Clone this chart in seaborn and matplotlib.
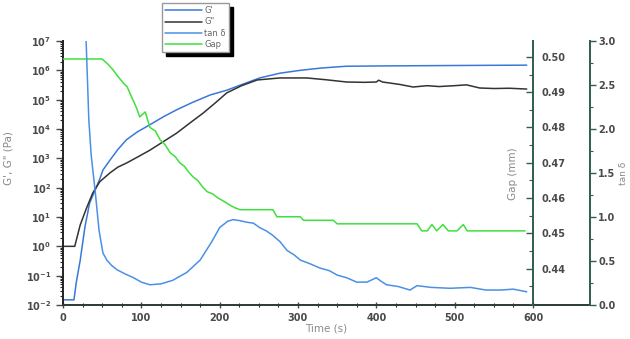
import numpy as np
import pandas as pd
import matplotlib
matplotlib.use("Agg")
import matplotlib.pyplot as plt
import matplotlib.ticker as mticker
import seaborn as sns

# G' storage modulus (Pa)
t_gp = [0, 14, 17, 22, 28, 34, 41, 47, 51, 60, 70, 81, 95, 111, 128, 145, 165,
        188, 209, 230, 251, 277, 303, 330, 362, 420, 480, 540, 592]
g_p = [1.5e-2, 1.5e-2, 6e-2, 3.4e-1, 4.6, 3.0e1, 8.3e1, 2.0e2, 4.0e2, 8.7e2,
       2.0e3, 4.3e3, 8.0e3, 1.4e4, 2.6e4, 4.5e4, 8.0e4, 1.45e5, 2.1e5, 3.4e5,
       5.5e5, 8.0e5, 1.0e6, 1.2e6, 1.38e6, 1.42e6, 1.45e6, 1.48e6, 1.5e6]

# G'' loss modulus (Pa)
t_gpp = [0, 15, 22, 30, 38, 47, 60, 70, 81, 95, 111, 128, 145, 162, 179, 195,
         209, 228, 248, 277, 294, 311, 335, 362, 385, 400, 403, 408, 430, 447,
         465, 480, 500, 515, 532, 550, 570, 592]
g_pp = [1.0, 1.0, 5.4, 2.0e1, 6.6e1, 1.6e2, 3.2e2, 5.0e2, 6.9e2, 1.1e3, 1.9e3,
        3.7e3, 7.2e3, 1.6e4, 3.5e4, 8.0e4, 1.7e5, 3.0e5, 4.7e5, 5.5e5, 5.5e5,
        5.5e5, 4.8e5, 4.0e5, 3.9e5, 4.0e5, 4.6e5, 4.0e5, 3.3e5, 2.7e5, 3.0e5,
        2.8e5, 3.0e5, 3.2e5, 2.5e5, 2.4e5, 2.45e5, 2.3e5]

# tan delta
t_tan = [29.5, 33, 36, 41, 46, 51, 56, 62, 69, 80, 90, 100, 111, 125, 140, 158,
         175, 190, 200, 210, 217, 225, 235, 243, 251, 260, 268, 277, 286, 295,
         303, 315, 328, 340, 350, 362, 375, 388, 400, 406, 413, 428, 443, 452,
         470, 494, 520, 540, 558, 575, 592]
tan_d = [3.0, 2.1, 1.7, 1.30, 0.85, 0.59, 0.51, 0.45, 0.40, 0.35, 0.31, 0.26,
         0.23, 0.24, 0.28, 0.37, 0.51, 0.72, 0.88, 0.95, 0.97, 0.96, 0.94, 0.93,
         0.88, 0.84, 0.79, 0.72, 0.62, 0.57, 0.51, 0.47, 0.42, 0.39, 0.34, 0.31,
         0.26, 0.26, 0.31, 0.27, 0.23, 0.21, 0.17, 0.22, 0.20, 0.19, 0.20,
         0.17, 0.17, 0.18, 0.15]

# Gap (mm)
t_gap = [0, 50, 57, 64, 70, 77, 82, 88, 93, 98, 102, 105, 108, 111, 118, 124,
         130, 137, 143, 149, 155, 160, 166, 172, 178, 184, 191, 198, 206, 213,
         220, 226, 268, 273, 303, 307, 345, 350, 452, 458, 465, 471, 477, 485,
         492, 503, 511, 516, 590]
gap = [0.4994, 0.4994, 0.4980, 0.4963, 0.4945, 0.4926, 0.4915, 0.4884, 0.4860,
       0.4830, 0.4838, 0.4844, 0.4822, 0.4800, 0.4790, 0.4765, 0.4752, 0.4728,
       0.4718, 0.4700, 0.4690, 0.4675, 0.4660, 0.4650, 0.4632, 0.4618, 0.4612,
       0.4600, 0.4590, 0.4580, 0.4572, 0.4567, 0.4567, 0.4547, 0.4547, 0.4537,
       0.4537, 0.4527, 0.4527, 0.4507, 0.4507, 0.4525, 0.4507, 0.4525, 0.4507,
       0.4507, 0.4525, 0.4507, 0.4507]

sns.set_style("ticks")
plt.rcParams["font.family"] = ["DejaVu Sans"]

c_gp = "#3a78d8"
c_gpp = "#333333"
c_tan = "#4a90e6"
c_gap = "#3ee03e"
c_spine = "#2f5d50"
c_lbl = "#8a8a8a"
c_tick = "#4a4a4a"

fig = plt.figure(figsize=(6.3, 3.39), dpi=100)
ax = fig.add_axes([63 / 630, 1 - 305 / 339, 470 / 630, 264 / 339])

sns.lineplot(x=t_gp, y=g_p, ax=ax, color=c_gp, lw=1.1, estimator=None, sort=False)
sns.lineplot(x=t_gpp, y=g_pp, ax=ax, color=c_gpp, lw=1.1, estimator=None, sort=False)
ax.set_yscale("log")
ax.set_ylim(1e-2, 1e7)
ax.set_xlim(0, 600)

ax_gap = ax.twinx()
sns.lineplot(x=t_gap, y=gap, ax=ax_gap, color=c_gap, lw=1.1, estimator=None, sort=False)
ax_gap.set_ylim(0.4297, 0.5045)

ax_tan = ax.twinx()
ax_tan.spines["right"].set_position(("axes", 1.121))
sns.lineplot(x=t_tan, y=tan_d, ax=ax_tan, color=c_tan, lw=1.1, estimator=None, sort=False)
ax_tan.set_ylim(0, 3)

# main axis ticks
ax.set_xticks(np.arange(0, 601, 100))
ax.xaxis.set_minor_locator(mticker.MultipleLocator(25))
ax.yaxis.set_major_locator(mticker.LogLocator(base=10, numticks=12))
ax.yaxis.set_minor_locator(mticker.LogLocator(base=10, subs=np.arange(2, 10), numticks=12))
ax.yaxis.set_minor_formatter(mticker.NullFormatter())
ax.tick_params(axis="x", which="major", direction="inout", length=5, width=1, labelsize=7, colors=c_tick)
ax.tick_params(axis="x", which="minor", direction="inout", length=3, width=0.8)
ax.tick_params(axis="y", which="major", direction="out", length=5, width=1, labelsize=7, colors=c_tick)
ax.tick_params(axis="y", which="minor", direction="out", length=2.5, width=0.8)
for lab in ax.get_xticklabels() + ax.get_yticklabels():
    lab.set_fontweight("bold")
for s in ["top", "right"]:
    ax.spines[s].set_visible(False)
ax.spines["left"].set_color("#222222")
ax.spines["bottom"].set_color("#2a3a36")
ax.spines["left"].set_linewidth(1.4)
ax.spines["bottom"].set_linewidth(1.4)

# gap axis
ax_gap.set_yticks([0.44, 0.45, 0.46, 0.47, 0.48, 0.49, 0.50])
ax_gap.yaxis.set_minor_locator(mticker.MultipleLocator(0.005))
ax_gap.yaxis.set_major_formatter(mticker.FormatStrFormatter("%.2f"))
ax_gap.tick_params(axis="y", which="major", direction="in", length=5, width=1,
                   labelsize=7, colors=c_tick, pad=6)
ax_gap.tick_params(axis="y", which="minor", direction="in", length=3, width=0.8, colors=c_spine)
ax_gap.tick_params(axis="y", which="major", color=c_spine)
for lab in ax_gap.get_yticklabels():
    lab.set_fontweight("bold")
for s in ["top", "left", "bottom"]:
    ax_gap.spines[s].set_visible(False)
ax_gap.spines["right"].set_color(c_spine)
ax_gap.spines["right"].set_linewidth(1.4)

# tan delta axis
ax_tan.set_yticks(np.arange(0, 3.01, 0.5))
ax_tan.yaxis.set_minor_locator(mticker.MultipleLocator(0.25))
ax_tan.yaxis.set_major_formatter(mticker.FormatStrFormatter("%.1f"))
ax_tan.tick_params(axis="y", which="major", direction="out", length=4, width=1,
                   labelsize=7, colors=c_tick, pad=2)
ax_tan.tick_params(axis="y", which="major", color=c_spine)
ax_tan.tick_params(axis="y", which="minor", direction="out", length=2.5, width=0.8, colors=c_spine)
for lab in ax_tan.get_yticklabels():
    lab.set_fontweight("bold")
for s in ["top", "left", "bottom"]:
    ax_tan.spines[s].set_visible(False)
ax_tan.spines["right"].set_color(c_spine)
ax_tan.spines["right"].set_linewidth(1.4)
ax.plot([1, 1.121], [0, 0], transform=ax.transAxes, color="#2a3a36", lw=1.4, clip_on=False)

# axis labels
ax.set_xlabel("Time (s)", fontsize=7.5, color=c_lbl)
ax.xaxis.set_label_coords(0.56, -0.07)
ax.set_ylabel("G', G\" (Pa)", fontsize=7.5, color=c_lbl)
ax.yaxis.set_label_coords(-0.105, 0.557)
ax_gap.set_ylabel("Gap (mm)", fontsize=7.5, color=c_lbl)
ax_gap.yaxis.set_label_position("right")
ax_gap.yaxis.set_label_coords(0.947, 0.496)
ax_tan.set_ylabel("tan δ", fontsize=6.5, color=c_lbl, rotation=90)
ax_tan.yaxis.set_label_coords(1.183, 0.5)

# legend
handles = [
    plt.Line2D([], [], color=c_gp, lw=1.1),
    plt.Line2D([], [], color=c_gpp, lw=1.1),
    plt.Line2D([], [], color=c_tan, lw=1.1),
    plt.Line2D([], [], color=c_gap, lw=1.1),
]
leg = fig.legend(handles, ["G'", 'G"', "tan δ", "Gap"], loc="upper left",
                 bbox_to_anchor=(162 / 630, 1 - 3 / 339), bbox_transform=fig.transFigure,
                 borderaxespad=0, fontsize=6, handlelength=4.4, handletextpad=0.3,
                 labelspacing=0.25, borderpad=0.4, fancybox=False, framealpha=1,
                 edgecolor="#999999",
                 shadow={"color": "black", "alpha": 1, "ox": 3, "oy": -3})
for txt in leg.get_texts():
    txt.set_color("#666666")

fig.savefig("out.png", dpi=100)
